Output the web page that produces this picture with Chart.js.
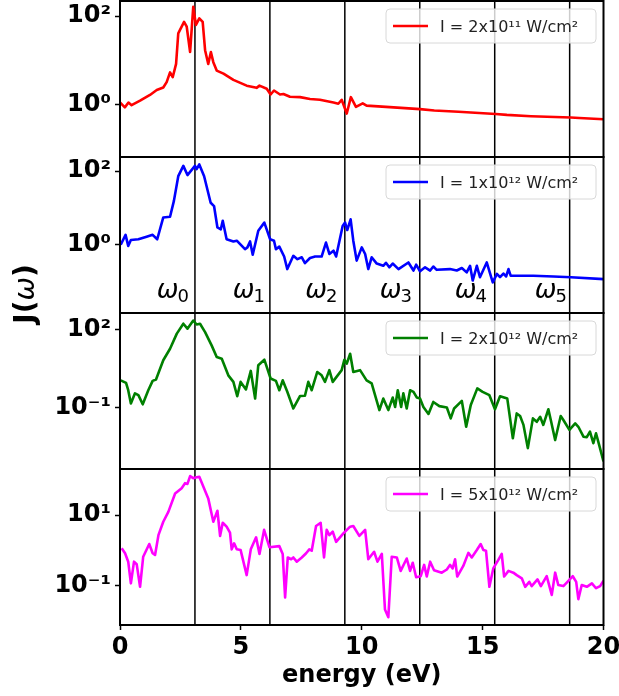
<!DOCTYPE html>
<html>
<head>
<meta charset="utf-8">
<script src="https://cdn.jsdelivr.net/npm/chart.js@4"></script>
<style>
html,body{margin:0;padding:0;background:#fff;}
#wrap{width:619px;height:696px;position:relative;}
</style>
</head>
<body>
<div id="wrap"><canvas id="c" width="619" height="696"></canvas></div>
<script>
// ---------- data (energy in eV, J(omega)) ----------
const energy1 = [0,0.2,0.35,0.48,0.83,1.24,1.52,1.79,1.93,2.07,2.18,2.32,2.41,2.65,2.76,2.90,3.03,3.14,3.28,3.42,3.52,3.65,3.76,3.86,4.0,4.28,4.69,5.24,5.65,5.77,6.07,6.23,6.37,6.62,6.76,7.03,7.45,7.86,8.27,8.83,9.03,9.17,9.38,9.55,9.76,10.04,10.2,11,12.41,13,14,15.54,16,17,18.65,19,20];
const J1 = [1.12,0.871,1.12,0.977,1.23,1.66,2.14,2.45,3.24,5.37,4.17,8.32,40.7,74.1,57.5,15.5,162,63.1,89.1,74.1,17.0,8.32,15.5,9.12,5.89,5.01,3.63,2.69,2.40,2.69,2.29,1.70,2.09,1.70,1.74,1.51,1.48,1.35,1.29,1.12,1.05,1.29,0.631,1.48,0.891,1.07,0.955,0.891,0.794,0.741,0.692,0.617,0.589,0.550,0.513,0.501,0.468];

const energy2 = [0.03,0.23,0.34,0.45,0.76,1.10,1.35,1.54,1.79,2.07,2.23,2.41,2.62,2.79,3.10,3.17,3.28,3.48,3.75,3.89,4.03,4.17,4.25,4.41,4.69,4.83,5.17,5.27,5.38,5.49,5.72,5.97,6.21,6.37,6.45,6.59,6.79,6.92,7.17,7.34,7.52,7.65,7.86,8.07,8.34,8.52,8.66,8.83,8.94,9.21,9.31,9.40,9.54,9.65,9.79,10.0,10.14,10.27,10.41,10.62,10.89,11.0,11.14,11.28,11.52,11.93,12.14,12.25,12.41,12.62,12.83,12.96,13.1,13.65,13.93,14.14,14.34,14.48,14.59,14.76,14.89,15.17,15.42,15.59,15.72,15.86,15.97,16.07,16.16,17.1,17.93,18.65,20];
const J2 = [1.00,1.86,0.933,1.35,1.41,1.66,1.86,1.41,5.50,5.75,15.5,72.4,138,77.6,138,112,151,72.4,13.8,11.2,2.95,2.63,4.47,1.41,1.23,1.29,0.759,0.851,1.23,0.537,2.40,3.98,1.41,1.29,0.759,0.891,0.479,0.219,0.501,0.407,0.457,0.316,0.437,0.479,0.479,1.15,0.562,0.692,0.479,3.24,3.98,2.51,4.90,1.29,0.372,0.851,0.562,0.219,0.457,0.309,0.269,0.324,0.245,0.309,0.219,0.331,0.200,0.288,0.191,0.245,0.200,0.257,0.209,0.219,0.200,0.234,0.178,0.269,0.107,0.269,0.132,0.331,0.0955,0.162,0.132,0.166,0.138,0.219,0.145,0.145,0.138,0.132,0.117];

const energy3 = [0.03,0.25,0.34,0.45,0.62,0.76,0.94,1.17,1.35,1.49,1.79,2.07,2.35,2.62,2.79,3.03,3.17,3.31,3.52,3.79,4.0,4.21,4.48,4.69,4.85,4.99,5.21,5.41,5.59,5.72,5.97,6.23,6.45,6.59,6.73,6.92,7.17,7.45,7.65,7.79,7.93,8.16,8.34,8.48,8.66,8.80,9.17,9.28,9.38,9.52,9.65,9.93,10.2,10.41,10.73,10.89,11.1,11.28,11.38,11.49,11.63,11.72,11.86,12.0,12.14,12.28,12.41,12.55,12.76,12.96,13.21,13.52,13.68,13.82,14.14,14.32,14.51,14.78,15.0,15.28,15.51,15.72,16.02,16.25,16.41,16.55,16.69,16.87,17.08,17.24,17.38,17.51,17.72,17.82,18.0,18.23,18.34,18.59,18.83,18.96,19.17,19.31,19.44,19.58,19.69,19.8,20];
const J3 = [1.12,0.891,0.468,0.145,0.355,0.302,0.135,0.468,1.07,1.20,6.61,18.2,69.2,166,107,219,155,166,79.4,24.5,8.71,7.59,1.74,0.977,0.275,0.977,0.501,2.57,0.224,4.27,6.92,1.32,1.07,0.468,1.12,0.407,0.0933,0.282,0.288,0.977,0.468,2.34,1.74,0.977,2.75,0.977,2.75,6.92,4.90,11.7,2.34,2.75,1.12,0.851,0.0813,0.224,0.0813,0.245,0.107,0.468,0.107,0.355,0.0933,0.468,0.407,0.245,0.224,0.107,0.0575,0.166,0.115,0.102,0.0389,0.0933,0.182,0.0186,0.126,0.550,0.407,0.302,0.0871,0.275,0.224,0.00676,0.0603,0.0479,0.0219,0.00282,0.0389,0.0288,0.0447,0.0219,0.0871,0.0339,0.00575,0.0479,0.0339,0.0141,0.0251,0.0186,0.00776,0.00741,0.0120,0.00437,0.0105,0.00437,0.00087];

const energy4 = [0.07,0.21,0.34,0.45,0.58,0.69,0.83,0.96,1.21,1.35,1.45,1.59,1.79,2.0,2.28,2.55,2.69,2.79,2.90,3.03,3.17,3.28,3.45,3.65,3.86,4.03,4.14,4.25,4.41,4.55,4.62,4.72,4.83,4.99,5.24,5.41,5.63,5.77,5.96,6.18,6.59,6.73,6.83,6.94,7.08,7.17,7.31,7.52,7.70,7.83,7.93,8.11,8.30,8.44,8.55,8.66,8.80,8.94,9.24,9.52,9.65,9.90,10.14,10.27,10.51,10.65,10.83,10.96,11.1,11.24,11.45,11.61,11.86,12.0,12.11,12.25,12.44,12.58,12.69,12.83,12.99,13.31,13.52,13.65,13.76,13.86,13.95,14.2,14.41,14.55,14.76,14.92,15.03,15.14,15.28,15.44,15.65,15.79,15.89,16.07,16.27,16.41,16.62,16.76,16.93,17.03,17.27,17.41,17.65,17.86,18.0,18.13,18.34,18.48,18.73,18.87,18.96,19.1,19.31,19.52,19.69,19.86,20];
const J4 = [1.15,0.832,0.479,0.117,0.479,0.407,0.0933,0.661,1.51,0.832,0.741,2.69,6.46,12.3,40.7,57.5,79.4,75.9,126,110,117,120,63.1,29.5,6.46,13.2,2.57,6.03,4.68,3.16,1.07,1.58,1.07,1.02,0.200,1.07,2.34,0.794,3.80,1.23,1.32,0.794,0.0468,0.631,0.562,0.631,0.479,0.631,0.832,1.07,0.977,4.90,6.03,0.631,3.80,2.69,3.39,1.74,3.02,4.68,4.90,2.57,3.80,0.562,0.912,0.479,0.794,0.0214,0.0129,0.661,0.631,0.263,0.589,0.263,0.447,0.174,0.186,0.389,0.182,0.479,0.275,0.234,0.288,0.389,0.309,0.562,0.182,0.363,0.851,0.631,1.02,1.51,1.02,0.977,0.0933,0.309,0.537,0.794,0.182,0.263,0.234,0.200,0.162,0.0933,0.129,0.0977,0.151,0.0977,0.186,0.0550,0.234,0.105,0.0977,0.123,0.186,0.129,0.0417,0.105,0.0933,0.117,0.0851,0.0977,0.138];

const seriesLabels = ['I = 2x10\u00B9\u00B9 W/cm\u00B2','I = 1x10\u00B9\u00B2 W/cm\u00B2','I = 2x10\u00B9\u00B2 W/cm\u00B2','I = 5x10\u00B9\u00B2 W/cm\u00B2'];
const seriesColors = ['#ff0000','#0000ff','#008000','#ff00ff'];

// axis ranges and ticks
const yMin = [0.066, 0.0141, 0.000447, 0.00776];
const yMax = [219, 240, 427, 200];
const yTicks = [[1,100],[1,100],[0.1,100],[0.1,10]];
const yTickLabels = [['10\u2070','10\u00B2'],['10\u2070','10\u00B2'],['10\u207B\u00B9','10\u00B2'],['10\u207B\u00B9','10\u00B9']];
const xTicks = [0,5,10,15,20];
const xTickLabels = ['0','5','10','15','20'];

// harmonic lines (eV) and labels
const omegaLines = [3.1,6.2,9.3,12.4,15.5,18.6];
const omegaSubs = ['0','1','2','3','4','5'];
const omegaLabelX = [2.85,6.0,9.0,12.08,15.18,18.49];
const omegaLabelY = 0.036;

const FONT = '"DejaVu Sans", sans-serif';
const energies = [energy1, energy2, energy3, energy4];
const Js = [J1, J2, J3, J4];

const datasets = Js.map((J, k) => ({
  label: seriesLabels[k],
  data: J.map((v, i) => ({x: energies[k][i], y: v})),
  borderColor: seriesColors[k],
  backgroundColor: seriesColors[k],
  borderWidth: 2.6,
  pointRadius: 0,
  tension: 0,
  fill: false,
  borderJoinStyle: 'round',
  yAxisID: 'y' + (k + 1)
}));

function makeY(k) {
  return {
    type: 'logarithmic',
    position: 'left',
    stack: 'J',
    stackWeight: 1,
    offset: false,
    bounds: 'data',
    min: yMin[k],
    max: yMax[k],
    afterBuildTicks: s => { s.ticks = yTicks[k].map(v => ({value: v})); },
    afterFit: s => { s.width = 120; s.paddingTop = 0; s.paddingBottom = 0; s.paddingLeft = 0; s.paddingRight = 0; },
    ticks: {
      callback: (v, i) => yTickLabels[k][i],
      font: {family: FONT, size: 24, weight: 'bold'},
      color: '#000',
      padding: 4,
      autoSkip: false
    },
    grid: {display: true, drawOnChartArea: false, drawTicks: true, tickLength: 5, tickColor: '#000', tickWidth: 1.5},
    border: {display: false}
  };
}

const scales = {
  x: {
    type: 'linear',
    position: 'bottom',
    min: 0, max: 20,
    afterBuildTicks: s => { s.ticks = xTicks.map(v => ({value: v})); },
    afterFit: s => { s.height = 71; s.paddingLeft = 0; s.paddingRight = 0; },
    ticks: {
      callback: (v, i) => xTickLabels[i],
      font: {family: FONT, size: 24, weight: 'bold'},
      color: '#000',
      padding: 3,
      maxRotation: 0,
      autoSkip: false
    },
    grid: {display: true, drawOnChartArea: false, drawTicks: true, tickLength: 5, tickColor: '#000', tickWidth: 1.5},
    border: {display: false},
    title: {display: true, text: 'energy (eV)', color: '#000', font: {family: FONT, size: 24, weight: 'bold'}, padding: {top: 0, bottom: 6}}
  }
};
// stacked left axes are laid out last-defined-on-top, so add them bottom panel first
for (let k = 3; k >= 0; k--) scales['y' + (k + 1)] = makeY(k);

function roundRect(ctx, x, y, w, h, r) {
  ctx.beginPath();
  ctx.moveTo(x + r, y);
  ctx.lineTo(x + w - r, y); ctx.quadraticCurveTo(x + w, y, x + w, y + r);
  ctx.lineTo(x + w, y + h - r); ctx.quadraticCurveTo(x + w, y + h, x + w - r, y + h);
  ctx.lineTo(x + r, y + h); ctx.quadraticCurveTo(x, y + h, x, y + h - r);
  ctx.lineTo(x, y + r); ctx.quadraticCurveTo(x, y, x + r, y);
  ctx.closePath();
}

const panelPlugin = {
  id: 'panels',
  beforeDatasetsDraw(chart) {
    const {ctx, chartArea: a, scales: sc} = chart;
    ctx.save();
    ctx.strokeStyle = '#000';
    ctx.lineWidth = 1.5;
    omegaLines.forEach(v => {
      const px = sc.x.getPixelForValue(v);
      ctx.beginPath(); ctx.moveTo(px, a.top); ctx.lineTo(px, a.bottom); ctx.stroke();
    });
    ctx.restore();
  },
  afterDatasetsDraw(chart) {
    const {ctx, chartArea: a, scales: sc} = chart;
    ctx.save();
    // panel frames
    ctx.strokeStyle = '#000';
    ctx.lineWidth = 2;
    for (let k = 1; k <= 4; k++) {
      const ys = sc['y' + k];
      ctx.strokeRect(a.left, ys.top, a.right - a.left, ys.bottom - ys.top);
    }
    // legends
    chart.data.datasets.forEach((ds, k) => {
      const ys = sc['y' + (k + 1)];
      const right = a.right - 7.5, w = 210, h = 34;
      const left = right - w, top = ys.top + 8;
      roundRect(ctx, left, top, w, h, 4);
      ctx.fillStyle = 'rgba(255,255,255,0.8)';
      ctx.fill();
      ctx.strokeStyle = '#d8d8d8';
      ctx.lineWidth = 1;
      ctx.stroke();
      const cy = top + h / 2;
      ctx.strokeStyle = ds.borderColor;
      ctx.lineWidth = 2.6;
      ctx.beginPath(); ctx.moveTo(left + 7, cy); ctx.lineTo(left + 42, cy); ctx.stroke();
      ctx.fillStyle = '#222';
      ctx.font = '16px ' + FONT;
      ctx.textAlign = 'left';
      ctx.textBaseline = 'alphabetic';
      ctx.fillText(ds.label, left + 54, cy + 6);
    });
    // omega labels in panel 2
    const y2 = sc.y2;
    const base = y2.getPixelForValue(omegaLabelY);
    ctx.fillStyle = '#000';
    ctx.textAlign = 'left';
    ctx.textBaseline = 'alphabetic';
    omegaSubs.forEach((sub, i) => {
      const xe = sc.x.getPixelForValue(omegaLabelX[i]);
      ctx.font = '18px ' + FONT;
      const sw = ctx.measureText(sub).width;
      ctx.fillText(sub, xe - sw, base + 4);
      ctx.font = 'italic 26px ' + FONT;
      const ow = ctx.measureText('\u03C9').width;
      ctx.fillText('\u03C9', xe - sw - ow + 1, base);
    });
    // y title
    const parts = [['J(', 'bold 28px ' + FONT], ['\u03C9', 'italic 28px ' + FONT], [')', 'bold 28px ' + FONT]];
    let total = 0;
    parts.forEach(p => { ctx.font = p[1]; p.push(ctx.measureText(p[0]).width); total += p[2]; });
    ctx.translate(27, 294);
    ctx.rotate(-Math.PI / 2);
    ctx.textBaseline = 'middle';
    let xx = -total / 2;
    parts.forEach(p => { ctx.font = p[1]; ctx.fillText(p[0], xx, 0); xx += p[2]; });
    ctx.restore();
  }
};

new Chart(document.getElementById('c'), {
  type: 'line',
  data: {datasets},
  options: {
    responsive: false,
    devicePixelRatio: 1,
    animation: false,
    layout: {padding: {left: 0, right: 15.5, top: 1, bottom: 0}},
    plugins: {legend: {display: false}, tooltip: {enabled: false}},
    scales
  },
  plugins: [panelPlugin]
});
</script>
</body>
</html>
